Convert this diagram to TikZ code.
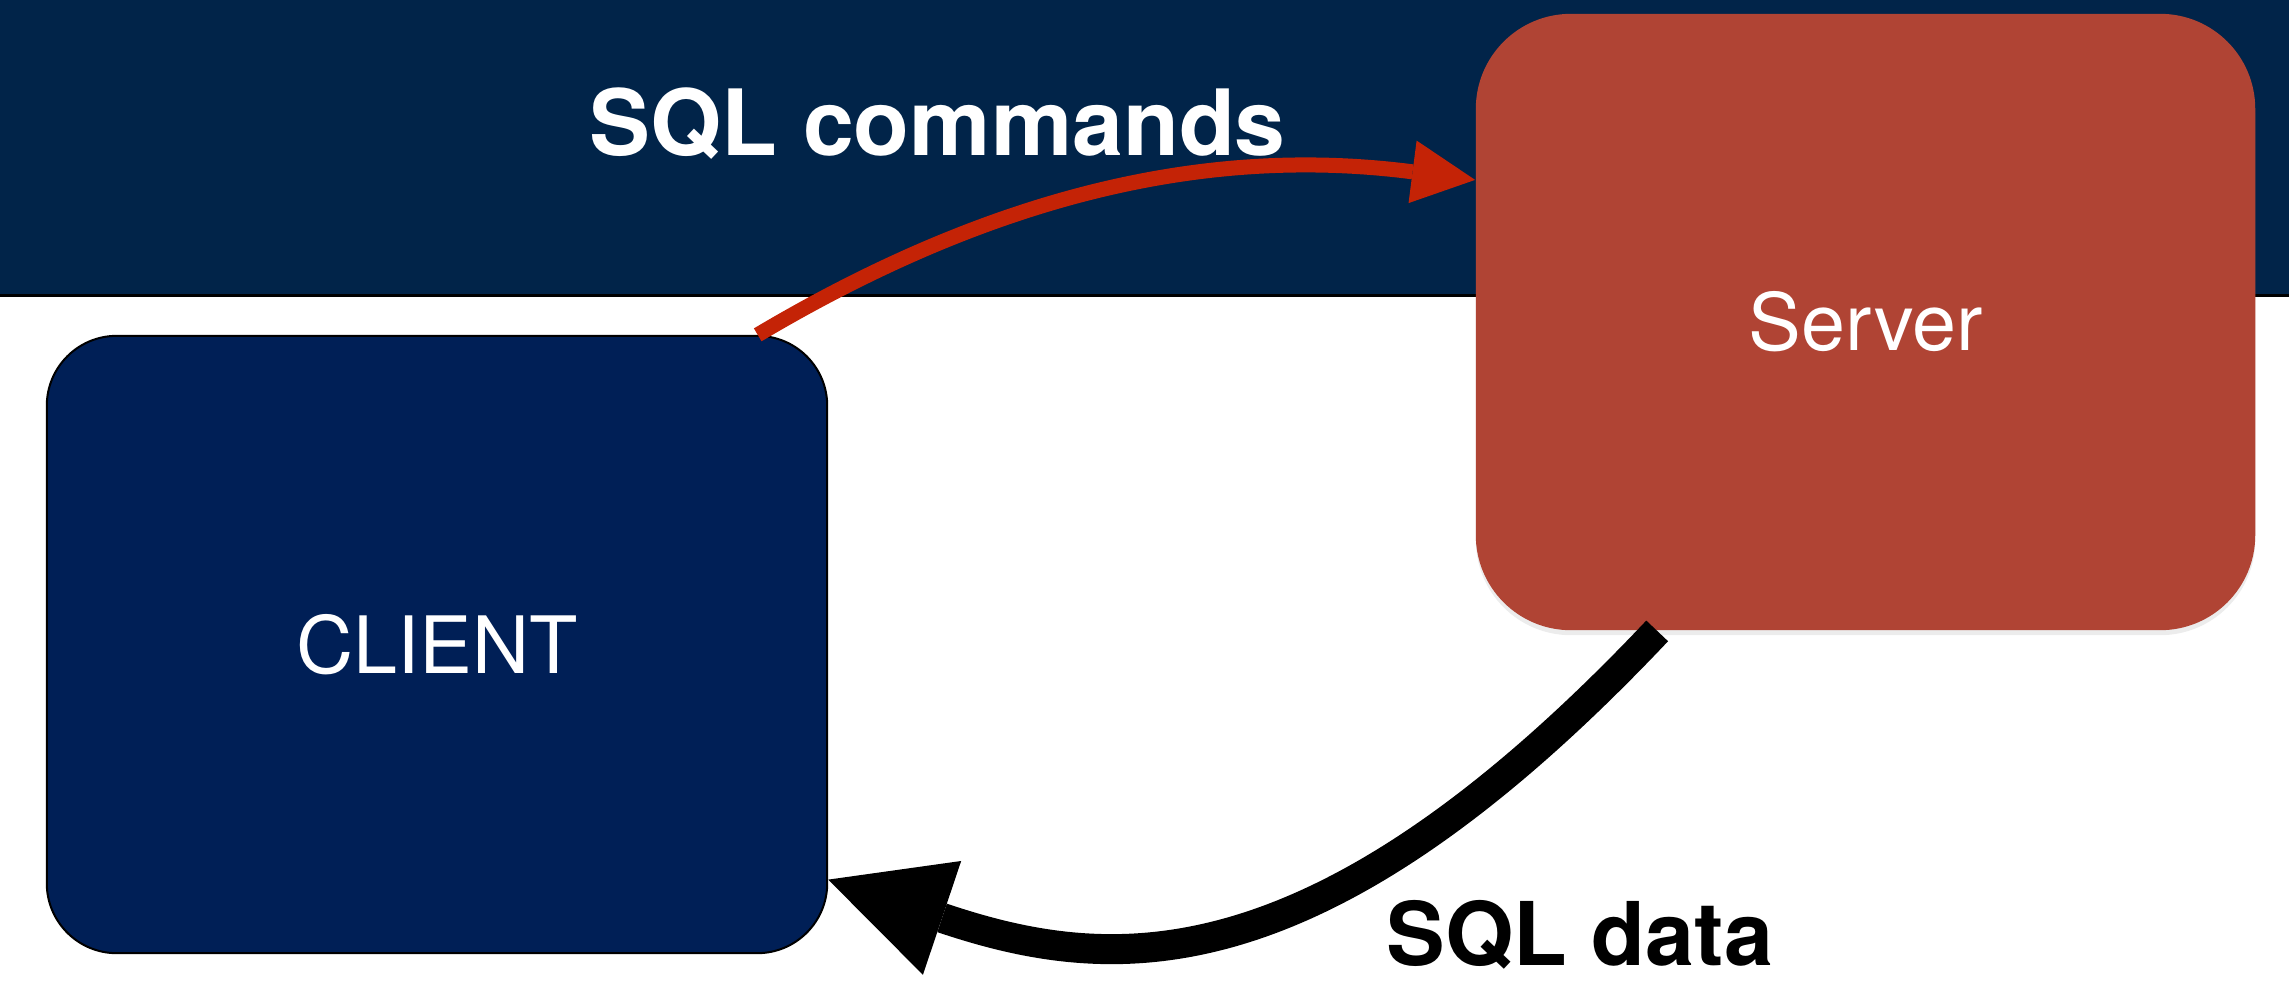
\documentclass[tikz,border=0pt]{standalone}
\usepackage{fontspec}
\setmainfont{TeX Gyre Heros}
\usetikzlibrary{arrows.meta,shadows}
\definecolor{bandblue}{RGB}{1,36,73}
\definecolor{clientblue}{RGB}{0,31,86}
\definecolor{serverred}{RGB}{176,68,52}
\definecolor{arrowred}{RGB}{196,35,6}
\begin{document}
\begin{tikzpicture}[x=0.01cm,y=-0.01cm,
  boxtext/.style={text=white,font=\fontsize{22.5}{26}\selectfont},
  clientbox/.style={boxtext,draw=black,line width=0.02cm,fill=clientblue,rounded corners=0.7cm,minimum width=7.8cm,minimum height=6.17cm,inner sep=0pt},
  serverbox/.style={boxtext,fill=serverred,rounded corners=0.95cm,minimum width=7.79cm,minimum height=6.16cm,inner sep=0pt,
    drop shadow={shadow xshift=0cm,shadow yshift=-0.05cm,opacity=0.15}},
  lbl/.style={inner sep=0pt,anchor=base west},
  redarrow/.style={draw=arrowred,line width=0.15cm,-{Triangle[length=0.63cm,width=0.63cm,line width=0pt]}},
  blackarrow/.style={draw=black,line width=0.30cm,-{Triangle[length=1.2cm,width=1.2cm,line width=0pt]}}]
\useasboundingbox (0,0) rectangle (2289,981);
\fill[bandblue] (0,0) rectangle (2289,295);
\draw[line width=0.03cm] (0,295) -- (2289,295);
\node[clientbox] (client) at (437,644.5) {CLIENT};
\node[serverbox] (server) at (1865.5,322) {Server};
\node[lbl,text=white,font=\fontsize{26}{30}\selectfont\bfseries] (cmd) at (589,155) {SQL commands};
\node[lbl,text=black,font=\fontsize{25}{30}\selectfont\bfseries] (data) at (1386,965) {SQL data};
\draw[redarrow] (client.44) .. controls (1015,182) and (1228,148) .. (server.160);
\draw[blackarrow] (server.236) .. controls (1315,993) and (1109,974) .. (client.-31.5);
\end{tikzpicture}
\end{document}
